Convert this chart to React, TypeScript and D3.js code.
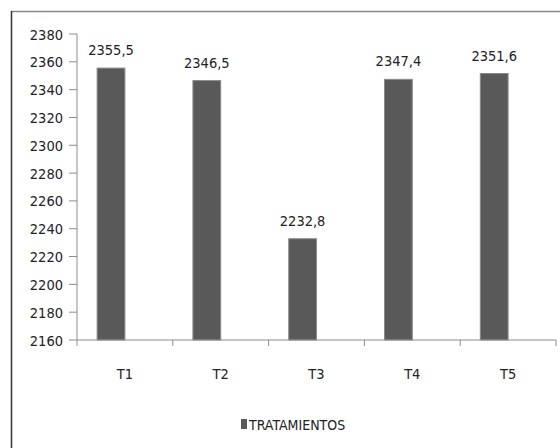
import React from "react";
import * as d3 from "d3";

const categories = ["T1", "T2", "T3", "T4", "T5"];
const values = [2355.5, 2346.5, 2232.8, 2347.4, 2351.6];
const valueLabels = ["2355,5", "2346,5", "2232,8", "2347,4", "2351,6"];
const yTicks = [2160, 2180, 2200, 2220, 2240, 2260, 2280, 2300, 2320, 2340, 2360, 2380];
const seriesName = "TRATAMIENTOS";

const W = 560;
const H = 448;
const FONT = "'Liberation Sans Narrow', 'DejaVu Sans Condensed', 'Liberation Sans', sans-serif";
const TEXT = "#222226";
const AXIS = "#8c8c8c";
const BAR = "#595959";

export default function App() {
  const y = d3.scaleLinear().domain([2160, 2380]).range([340, 34]);
  const x = d3.scaleBand<string>().domain(categories).range([77, 556]).padding(0);
  const bw = x.bandwidth();
  const barW = bw * 0.29;

  return (
    <svg width={W} height={H} style={{ position: "absolute", left: 0, top: 0, background: "#fff" }} fontFamily={FONT}>
      {/* chart frame: only the top and left edges fall inside the view */}
      <line x1={11} x2={W} y1={11.5} y2={11.5} stroke="#8a8a8a" strokeWidth={1.5} />
      <line x1={11.5} x2={11.5} y1={11} y2={H} stroke="#333" strokeWidth={1.5} />

      {/* y axis */}
      <line x1={77} x2={77} y1={y(2380)} y2={y(2160)} stroke={AXIS} />
      {yTicks.map((t) => (
        <g key={t}>
          <line x1={69} x2={77} y1={y(t)} y2={y(t)} stroke={AXIS} />
          <text x={63} y={y(t)} dy="0.38em" textAnchor="end" fontSize={14.5} fill={TEXT}>
            {t}
          </text>
        </g>
      ))}

      {/* bars */}
      {categories.map((c, i) => {
        const cx = (x(c) as number) + bw / 2;
        return (
          <g key={c}>
            <rect
              x={cx - barW}
              y={y(values[i])}
              width={barW}
              height={y(2160) - y(values[i])}
              fill={BAR}
              stroke="#8a8a8a"
              strokeWidth={1}
            />
            <text x={cx - barW / 2} y={y(values[i]) - 13} textAnchor="middle" fontSize={14.5} fill={TEXT}>
              {valueLabels[i]}
            </text>
          </g>
        );
      })}

      {/* x axis */}
      <line x1={77} x2={556} y1={340} y2={340} stroke={AXIS} />
      {[...categories.map((c) => x(c) as number), 556].map((t, i) => (
        <line key={i} x1={t} x2={t} y1={340} y2={346} stroke={AXIS} />
      ))}
      {categories.map((c) => (
        <text key={c} x={(x(c) as number) + bw / 2} y={379} textAnchor="middle" fontSize={14.5} fill={TEXT}>
          {c}
        </text>
      ))}

      {/* legend */}
      <rect x={241} y={419} width={6} height={10} fill={BAR} />
      <text x={249} y={429.5} fontSize={14} fill={TEXT}>
        {seriesName}
      </text>
    </svg>
  );
}
